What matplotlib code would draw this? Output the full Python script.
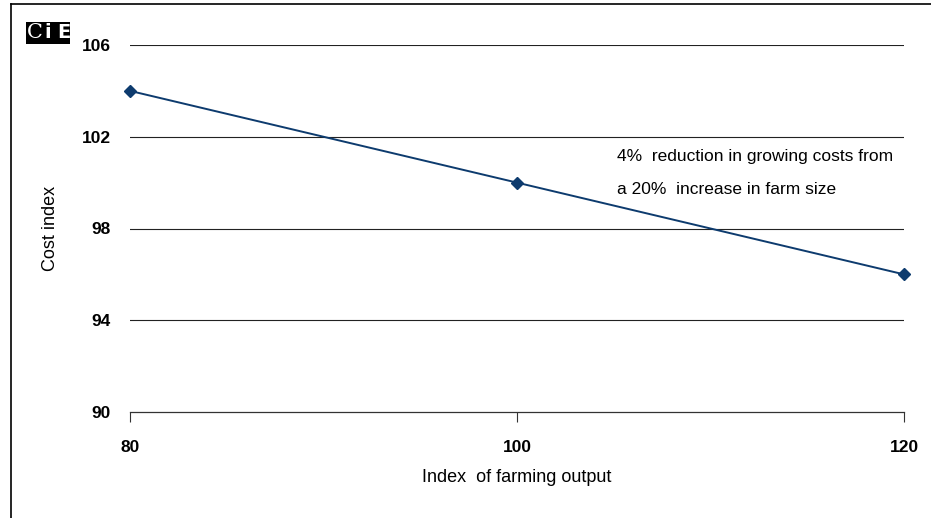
import matplotlib
matplotlib.use('Agg')
import matplotlib.pyplot as plt
from matplotlib.patches import Rectangle
from matplotlib.lines import Line2D

# farm output index vs cost index
output_index = [80, 100, 120]
cost_index = [104, 100, 96]
yticks = [90, 94, 98, 102, 106]
xticks = [80, 100, 120]

W, H = 931, 518
fig = plt.figure(figsize=(W / 100, H / 100), dpi=100)
narrow = ['Liberation Sans Narrow', 'Liberation Sans', 'DejaVu Sans']

ax = fig.add_axes([130 / W, 1 - 412 / H, (904 - 130) / W, (412 - 45) / H])
ax.set_xlim(80, 120)
ax.set_ylim(90, 106)

for yv in yticks[1:]:
    ax.axhline(yv, color='#222222', lw=0.8, zorder=1)

ax.plot(output_index, cost_index, color='#0d3b6e', lw=1.4, marker='D',
        markersize=6, zorder=3, clip_on=False)

for s in ['top', 'right', 'left']:
    ax.spines[s].set_visible(False)
ax.spines['bottom'].set_color('#333333')
ax.spines['bottom'].set_linewidth(0.9)

ax.set_yticks(yticks)
ax.set_xticks(xticks)
ax.tick_params(axis='y', length=0, pad=14)
ax.tick_params(axis='x', length=7, direction='out', pad=13, color='#333333')
for lab in ax.get_yticklabels() + ax.get_xticklabels():
    lab.set_fontfamily(narrow)
    lab.set_fontweight('bold')
    lab.set_fontsize(12.5)

ax.set_ylabel('Cost index', fontfamily=narrow, fontsize=13)
ax.yaxis.set_label_coords((51 - 130) / 774, 0.5)
ax.set_xlabel('Index  of farming output', fontfamily=narrow, fontsize=13)
ax.xaxis.set_label_coords(0.5, (412 - 478) / 367)
ax.xaxis.label.set_va('center')
ax.yaxis.label.set_va('center')

ax.text(617 / W, 1 - 157 / H, '4%  reduction in growing costs from', transform=fig.transFigure,
        fontfamily=narrow, fontsize=12.5, va='center', ha='left')
ax.text(617 / W, 1 - 190 / H, 'a 20%  increase in farm size', transform=fig.transFigure,
        fontfamily=narrow, fontsize=12.5, va='center', ha='left')

# outer frame (left and top edges)
fig.add_artist(Line2D([10.5 / W, 10.5 / W], [0, 1 - 4 / H], transform=fig.transFigure, color='black', lw=1.2))
fig.add_artist(Line2D([10.5 / W, 1], [1 - 4 / H, 1 - 4 / H], transform=fig.transFigure, color='black', lw=1.2))

# logo
fig.add_artist(Rectangle((26 / W, 1 - 44 / H), 44 / W, 22 / H, transform=fig.transFigure,
                         facecolor='black', edgecolor='none'))
fig.text(27 / W, 1 - 33 / H, 'C', color='white', fontfamily='DejaVu Serif', fontsize=15,
         va='center', ha='left')
fig.text(48 / W, 1 - 33 / H, 'i', color='white', fontfamily='DejaVu Sans', fontsize=14,
         fontweight='bold', va='center', ha='center')
fig.text(57 / W, 1 - 33 / H, 'E', color='white', fontfamily='DejaVu Sans', fontsize=14,
         fontweight='bold', va='center', ha='left')

fig.savefig('out.png', dpi=100)
